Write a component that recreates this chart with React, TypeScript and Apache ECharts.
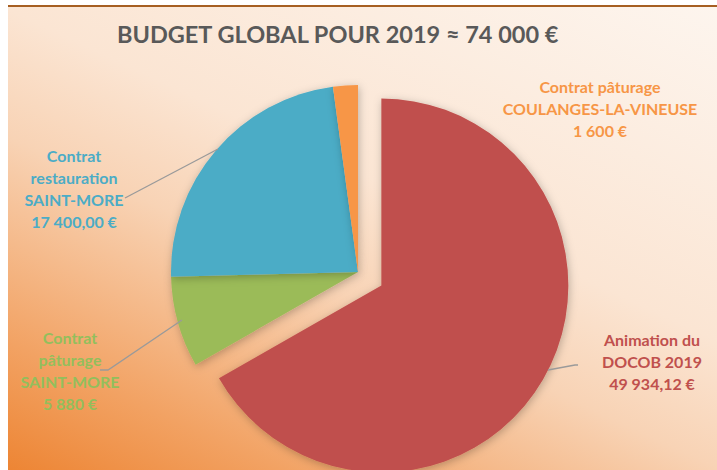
import React, { useEffect, useRef } from "react";
import * as echarts from "echarts";

const titleText = "BUDGET GLOBAL POUR 2019 ≈ 74 000 €";
const sliceNames = [
  "Animation du\nDOCOB 2019",
  "Contrat\npâturage\nSAINT-MORE",
  "Contrat\nrestauration\nSAINT-MORE",
  "Contrat pâturage\nCOULANGES-LA-VINEUSE",
];
const sliceValues = [49934.12, 5880, 17400, 1600];
const valueDecimals = [2, 0, 2, 0];
const sliceColors = ["#C0504D", "#9BBB59", "#4BACC6", "#F79646"];
const labelColors = ["#C0504D", "#92BF5C", "#4BACC6", "#F79646"];
const explodedIndex = 0;

// label anchor positions (chart px)
const labelPos = [
  [644, 354],
  [62, 363],
  [66, 181],
  [592, 101],
];
// leader lines (chart px)
const leaderLines = [
  [[540, 363], [567, 358], [570, 358]],
  [[92, 363], [100, 363], [174, 313]],
  [[117, 191], [210, 142]],
];

const CX = 350;
const CY = 265;
const R = 187;
const EXPLODE = 27;

function fmt(v: number, d: number): string {
  const s = v.toFixed(d);
  const [i, f] = s.split(".");
  const g = i.replace(/\B(?=(\d{3})+(?!\d))/g, " ");
  return (f ? g + "," + f : g) + " €";
}

export default function App() {
  const ref = useRef<HTMLDivElement>(null);
  useEffect(() => {
    if (!ref.current) return;
    const chart = echarts.init(ref.current, null, { renderer: "svg" });
    const total = sliceValues.reduce((a, b) => a + b, 0);
    let before = 0;
    for (let i = 0; i < explodedIndex; i++) before += sliceValues[i];
    const midFrac = (before + sliceValues[explodedIndex] / 2) / total;
    const a = midFrac * Math.PI * 2;
    const dx = EXPLODE * Math.sin(a);
    const dy = -EXPLODE * Math.cos(a);

    const shadow = {
      shadowBlur: 8,
      shadowColor: "rgba(0,0,0,0.25)",
      shadowOffsetX: 1,
      shadowOffsetY: 2,
    };
    const makeData = (exploded: boolean) =>
      sliceNames.map((n, i) => {
        const visible = (i === explodedIndex) === exploded;
        return {
          name: n,
          value: sliceValues[i],
          itemStyle: visible
            ? { color: sliceColors[i], ...shadow }
            : { color: "rgba(0,0,0,0)" },
          label: visible ? { show: true, color: labelColors[i] } : { show: false },
        };
      });

    const baseSeries = {
      type: "pie",
      radius: R,
      startAngle: 90,
      clockwise: true,
      avoidLabelOverlap: false,
      silent: true,
      label: {
        position: "outside",
        fontFamily: "Lato",
        fontWeight: "bold",
        fontSize: 16,
        lineHeight: 22,
        align: "center",
        formatter: (p: any) =>
          p.name + "\n" + fmt(sliceValues[p.dataIndex], valueDecimals[p.dataIndex]),
      },
      labelLine: { show: false },
      labelLayout: (p: any) => ({
        x: labelPos[p.dataIndex][0],
        y: labelPos[p.dataIndex][1],
        align: "center",
        verticalAlign: "middle",
      }),
    };

    chart.setOption({
      animation: false,
      backgroundColor: "transparent",
      graphic: [
        {
          type: "text",
          x: 109,
          y: 27,
          style: {
            text: titleText,
            font: "bold 23.5px Lato",
            fill: "#595959",
            textVerticalAlign: "middle",
          },
        },
        ...leaderLines.map((pts) => ({
          type: "polyline",
          shape: { points: pts },
          style: { stroke: "#9A9A9A", lineWidth: 1.3, fill: null },
          z: 10,
        })),
      ],
      series: [
        { ...baseSeries, center: [CX, CY], data: makeData(false) },
        { ...baseSeries, center: [CX + dx, CY + dy], data: makeData(true) },
      ],
    });
    return () => chart.dispose();
  }, []);
  return (
    <div
      style={{
        position: "absolute",
        left: 8,
        top: 5,
        width: 709,
        height: 465,
        borderTop: "2px solid #A65F22",
        boxSizing: "border-box",
      }}
    >
      <div
        ref={ref}
        style={{
          width: 709,
          height: 463,
          background:
            "linear-gradient(25deg, #ED8534 0%, #F2A263 16%, #F8D3B5 42%, #FBE5D3 58%, #FDF5EE 100%)",
        }}
      />
    </div>
  );
}
